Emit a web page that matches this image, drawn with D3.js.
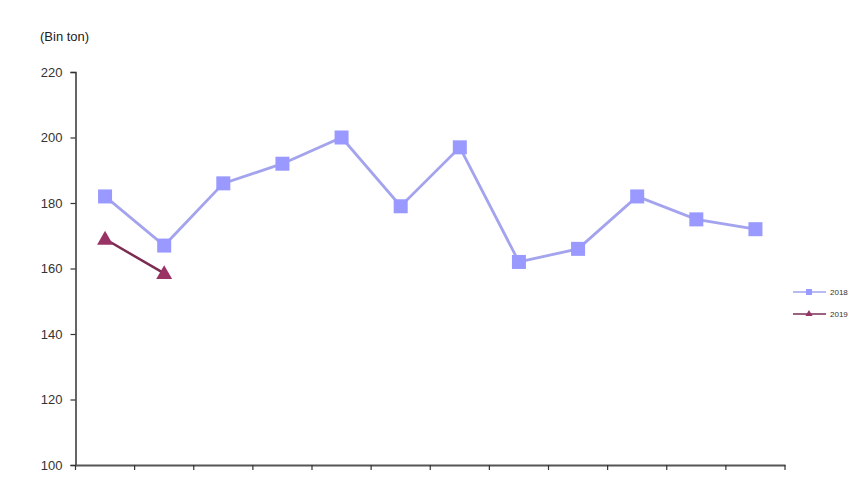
<!DOCTYPE html>
<html>
<head>
<meta charset="utf-8">
<script src="https://cdn.jsdelivr.net/npm/d3@7"></script>
<style>
  html, body { margin: 0; padding: 0; background: #fff; }
  svg { display: block; }
</style>
</head>
<body>
<svg id="chart" width="860" height="480"></svg>
<script>
const months = ["Ocak","Şubat","Mart","Nisan","Mayıs","Haziran","Temmuz","Ağustos","Eylül","Ekim","Kasım","Aralık"];
const values2018 = [182, 167, 186, 192, 200, 179, 197, 162, 166, 182, 175, 172];
const values2019 = [169, 158.5];
const yTicks = [100, 120, 140, 160, 180, 200, 220];
const seriesNames = ["2018", "2019"];
const unitLabel = "(Bin ton)";

const svg = d3.select("#chart");
const font = "Arial, 'Liberation Sans', sans-serif";

const x = d3.scaleBand().domain(months).range([75.5, 785]).padding(0);
const y = d3.scaleLinear().domain([100, 220]).range([465, 72]);

// Y axis
const yAxis = svg.append("g")
  .attr("transform", "translate(75.5,0)")
  .call(d3.axisLeft(y).tickValues(yTicks).tickSize(5).tickPadding(8).tickFormat(d3.format("d")));
yAxis.select(".domain").attr("stroke", "#333").attr("stroke-width", 1.5);
yAxis.selectAll(".tick line").attr("stroke", "#333").attr("stroke-width", 1.2);
yAxis.selectAll(".tick text").attr("font-family", font).attr("font-size", 13).attr("fill", "#333");

// X axis
const xAxis = svg.append("g")
  .attr("transform", "translate(0,465)")
  .call(d3.axisBottom(x).tickValues([]).tickSizeOuter(0));
xAxis.select(".domain").attr("stroke", "#555").attr("stroke-width", 2);
// tick marks at band boundaries
const bounds = months.map(m => x(m)).concat([x(months[months.length - 1]) + x.bandwidth()]);
xAxis.selectAll("line.bt").data(bounds).enter().append("line")
  .attr("class", "bt")
  .attr("x1", d => d).attr("x2", d => d)
  .attr("y1", 0).attr("y2", 5)
  .attr("stroke", "#333").attr("stroke-width", 1.2);

// Unit label
svg.append("text")
  .attr("x", 40).attr("y", 41)
  .attr("font-family", font).attr("font-size", 13).attr("fill", "#222")
  .text(unitLabel);

const cx = (i) => x(months[i]) + x.bandwidth() / 2;

// 2018 series
const line = d3.line().x((d, i) => cx(i)).y(d => y(d));
svg.append("path").datum(values2018)
  .attr("d", line).attr("fill", "none")
  .attr("stroke", "#a3a3ee").attr("stroke-width", 2.8);
svg.selectAll("rect.s18").data(values2018).enter().append("rect")
  .attr("class", "s18")
  .attr("x", (d, i) => cx(i) - 7).attr("y", d => y(d) - 7)
  .attr("width", 14).attr("height", 14)
  .attr("fill", "#9999ff");

// 2019 series
svg.append("path").datum(values2019)
  .attr("d", line).attr("fill", "none")
  .attr("stroke", "#7a2c52").attr("stroke-width", 2.5);
const tri = d3.symbol().type(d3.symbolTriangle).size(110);
svg.selectAll("path.s19").data(values2019).enter().append("path")
  .attr("class", "s19")
  .attr("d", tri)
  .attr("transform", (d, i) => `translate(${cx(i)},${y(d) + 1})`)
  .attr("fill", "#993366");

// Legend
const legend = svg.append("g");
const legendItems = [
  { name: seriesNames[0], color: "#a3a3ee", marker: "#9999ff", type: "square", y: 292 },
  { name: seriesNames[1], color: "#7a2c52", marker: "#993366", type: "triangle", y: 314 }
];
legendItems.forEach(it => {
  legend.append("line")
    .attr("x1", 793).attr("x2", 826).attr("y1", it.y).attr("y2", it.y)
    .attr("stroke", it.color).attr("stroke-width", 1.5);
  if (it.type === "square") {
    legend.append("rect").attr("x", 806).attr("y", it.y - 3).attr("width", 6).attr("height", 6).attr("fill", it.marker);
  } else {
    legend.append("path").attr("d", d3.symbol().type(d3.symbolTriangle).size(22))
      .attr("transform", `translate(809,${it.y})`).attr("fill", it.marker);
  }
  legend.append("text")
    .attr("x", 830).attr("y", it.y + 3)
    .attr("font-family", font).attr("font-size", 8).attr("fill", "#333")
    .text(it.name);
});
</script>
</body>
</html>
